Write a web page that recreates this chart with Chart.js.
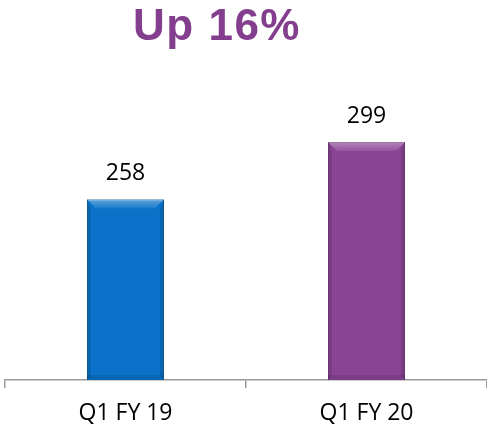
<!DOCTYPE html>
<html>
<head>
<meta charset="utf-8">
<script src="https://cdn.jsdelivr.net/npm/chart.js@4/dist/chart.umd.min.js"></script>
<style>
html,body{margin:0;padding:0;background:#fff;}
#wrap{width:487px;height:432px;position:relative;}
</style>
</head>
<body>
<div id="wrap"><canvas id="c" width="487" height="432"></canvas></div>
<script>
const categories = ["Q1 FY 19", "Q1 FY 20"];
const values = [258, 299];
const barColors = ["#0A73C9", "#8A4495"];
const barEdges = ["#075A9E", "#6B3274"];
const titleText = "Up 16%";

const titlePlugin = {
  id: 'titleText',
  afterDraw(chart) {
    const ctx = chart.ctx;
    ctx.save();
    ctx.font = "bold 44px 'Liberation Sans', Arial, sans-serif";
    ctx.letterSpacing = "1.5px";
    ctx.fillStyle = "#843E8E";
    ctx.textAlign = "center";
    ctx.textBaseline = "alphabetic";
    ctx.fillText(titleText, 217, 40);
    ctx.restore();
  }
};

const valueLabels = {
  id: 'valueLabels',
  afterDatasetsDraw(chart) {
    const ctx = chart.ctx;
    const meta = chart.getDatasetMeta(0);
    ctx.save();
    ctx.font = "23px 'Open Sans', 'Liberation Sans', sans-serif";
    ctx.fillStyle = "#000";
    ctx.textAlign = "center";
    ctx.textBaseline = "middle";
    meta.data.forEach((bar, i) => {
      ctx.fillText(String(chart.data.datasets[0].data[i]), bar.x, bar.y - 26);
    });
    ctx.restore();
  }
};

const bevel = {
  id: 'bevel',
  afterDatasetsDraw(chart) {
    const ctx = chart.ctx;
    const meta = chart.getDatasetMeta(0);
    const area = chart.chartArea;
    ctx.save();
    meta.data.forEach((bar) => {
      const l = bar.x - bar.width / 2, r = bar.x + bar.width / 2, t = bar.y, b = area.bottom;
      const d = 9;
      const g = ctx.createLinearGradient(0, t, 0, t + d);
      g.addColorStop(0, "rgba(255,255,255,0.35)");
      g.addColorStop(1, "rgba(255,255,255,0.08)");
      ctx.fillStyle = g;
      ctx.beginPath();
      ctx.moveTo(l, t); ctx.lineTo(r, t); ctx.lineTo(r - d, t + d); ctx.lineTo(l + d, t + d); ctx.closePath(); ctx.fill();
      ctx.fillStyle = "rgba(0,0,0,0.12)";
      ctx.beginPath();
      ctx.moveTo(r, t); ctx.lineTo(r, b); ctx.lineTo(r - 4, b - 4); ctx.lineTo(r - 4, t + d); ctx.closePath(); ctx.fill();
      ctx.beginPath();
      ctx.moveTo(l, t); ctx.lineTo(l, b); ctx.lineTo(l + 4, b - 4); ctx.lineTo(l + 4, t + d); ctx.closePath(); ctx.fill();
      ctx.fillStyle = "rgba(0,0,0,0.10)";
      ctx.fillRect(l, b - 5, r - l, 5);
    });
    ctx.restore();
  }
};

new Chart(document.getElementById('c'), {
  type: 'bar',
  data: {
    labels: categories,
    datasets: [{
      data: values,
      backgroundColor: barColors,
      borderColor: barEdges,
      borderWidth: 1,
      barPercentage: 0.8,
      categoryPercentage: 0.4
    }]
  },
  options: {
    responsive: false,
    animation: false,
    layout: { padding: { top: 99, left: 5, right: 0, bottom: 0 } },
    plugins: { legend: { display: false }, tooltip: { enabled: false } },
    scales: {
      y: { display: false, min: 128, max: 330 },
      x: {
        offset: true,
        afterFit(scale) { scale.height = 52; },
        grid: { offset: true, drawOnChartArea: false, color: "#999", tickLength: 8, lineWidth: 1.5 },
        border: { color: "#999", width: 1.5 },
        ticks: { color: "#000", font: { family: "'Open Sans', 'Liberation Sans', sans-serif", size: 23 }, padding: 12 }
      }
    }
  },
  plugins: [titlePlugin, valueLabels, bevel]
});
</script>
</body>
</html>
